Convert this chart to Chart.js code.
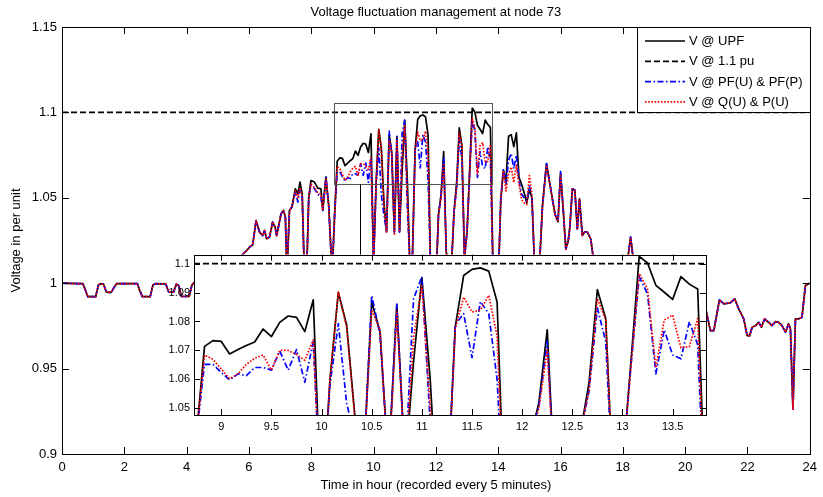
<!DOCTYPE html>
<html><head><meta charset="utf-8">
<script src="https://cdn.jsdelivr.net/npm/chart.js@4"></script>
<style>
html,body{margin:0;padding:0;background:#fff;}
#wrap{position:relative;width:823px;height:497px;overflow:hidden;}
#main{position:absolute;left:0;top:0;}
#inset{position:absolute;left:150px;top:244px;}
</style></head><body>
<div id="wrap">
<canvas id="main" width="823" height="497"></canvas>
<canvas id="inset" width="570" height="200"></canvas>
</div>
<script>
const chartTitle = 'Voltage fluctuation management at node 73';
const xAxisTitle = 'Time in hour (recorded every 5 minutes)';
const yAxisTitle = 'Voltage in per unit';
const seriesNames = ['V @ UPF', 'V @ 1.1 pu', 'V @ PF(U) & PF(P)', 'V @ Q(U) & P(U)'];
const limitValue = 1.1;

const hours = [
  0,0.5,0.67,0.75,0.83,1.08,1.17,1.25,1.33,1.42,1.5,1.58,1.67,1.75,2.42,2.5,2.58,2.83,2.92,3,3.33,3.42,3.58,3.67,3.75,3.83,4.08,4.17,4.25,
  4.5,4.75,5,5.25,5.5,5.75,5.92,
  6.02,6.12,6.23,6.34,6.44,6.5,6.57,6.66,6.76,6.84,6.89,7.03,7.11,7.17,7.22,7.3,7.38,7.49,7.57,7.64,7.71,7.78,7.85,7.92,7.99,8.1,8.21,8.31,8.37,8.47,8.56,8.67,
  8.750,8.833,8.917,9.000,9.083,9.167,9.250,9.333,9.417,9.500,9.583,9.667,9.750,9.833,9.917,
  10.000,10.083,10.167,10.250,10.333,10.417,10.500,10.583,10.667,10.750,10.833,10.917,
  11.000,11.083,11.167,11.250,11.333,11.417,11.500,11.583,11.667,11.750,11.833,11.917,
  12.000,12.083,12.167,12.250,12.333,12.417,12.500,12.583,12.667,12.750,12.833,12.917,
  13.000,13.083,13.167,13.250,13.333,13.417,13.500,13.583,13.667,13.750,13.833,
  14,14.083,14.167,14.25,14.333,14.417,14.5,14.583,14.667,14.75,14.833,14.917,15,15.083,15.167,15.25,15.33,15.42,15.55,15.67,15.75,15.83,15.92,16,16.08,16.17,16.25,16.3,16.38,16.46,16.54,16.61,16.7,16.77,16.86,16.97,17.05,
  17.5,17.9,18.1,18.17,18.25,18.33,18.5,19,19.5,20,20.4,
  20.65,20.81,20.92,21.1,21.24,21.45,21.59,21.72,21.88,21.99,22.07,22.15,22.26,22.36,22.45,22.55,22.68,22.79,22.9,23,23.11,23.22,23.32,23.38,23.46,23.54,23.64,23.75,23.86,24
];

const vUPF = [
  1.0000,0.9998,0.9997,0.9960,0.9921,0.9921,0.9990,0.9997,0.9995,0.9950,0.9946,0.9946,0.9975,0.9997,0.9997,0.9955,0.9921,0.9921,0.9990,0.9997,0.9996,0.9950,0.9947,0.9995,0.9985,0.9922,0.9922,0.9990,1.0005,
  1.0020,1.0040,1.0060,1.0090,1.0120,1.0160,1.0190,
  1.0211,1.0225,1.0367,1.0299,1.0279,1.0308,1.0260,1.0270,1.0358,1.0328,1.0279,1.0406,1.0426,1.0387,1.0050,1.0426,1.0446,1.0553,1.0523,1.0592,1.0523,1.0050,1.0050,1.0504,1.0601,1.0592,1.0557,1.0553,1.0426,1.0621,1.0455,1.0050,
  1.040,1.0714,1.0734,1.0731,1.0688,1.0703,1.0717,1.0729,1.0774,1.0748,1.0797,1.0819,1.0814,1.0765,1.0875,
  1.012,1.0596,1.0901,1.0788,1.047,1.030,1.0867,1.0765,1.030,1.0858,1.030,1.066,
  1.0952,1.060,1.010,1.017,1.0782,1.0959,1.0980,1.0985,1.0974,1.0867,1.005,1.000,
  1.000,1.040,1.052,1.0771,1.018,1.010,1.010,1.042,1.0590,1.0910,1.0810,1.015,
  1.030,1.0653,1.1025,1.1002,1.0925,1.0901,1.0876,1.0955,1.0929,1.0912,1.010,
  1.000,1.049,1.066,1.060,1.086,1.087,1.080,1.088,1.062,1.058,1.053,1.047,1.055,1.050,1.010,1.005,1.012,1.045,1.070,1.057,1.048,1.040,1.036,1.0641,1.045,1.020,1.025,1.033,1.0553,1.0544,1.0318,1.0494,1.0279,1.0299,1.0299,1.0260,1.0150,
  1.005,1.008,1.012,1.016,1.027,1.015,1.005,0.998,0.995,0.992,0.990,
  0.9859,0.9722,0.9722,0.9902,0.9879,0.9885,0.9908,0.9849,0.9791,0.9693,0.9693,0.9742,0.9752,0.9771,0.9742,0.9791,0.9771,0.9752,0.9775,0.9771,0.9752,0.9713,0.9762,0.9732,0.9263,0.9791,0.9791,0.9801,0.9986,1.0000
];

const vPFPF = [
  1.0000,0.9998,0.9997,0.9960,0.9921,0.9921,0.9990,0.9997,0.9995,0.9950,0.9946,0.9946,0.9975,0.9997,0.9997,0.9955,0.9921,0.9921,0.9990,0.9997,0.9996,0.9950,0.9947,0.9995,0.9985,0.9922,0.9922,0.9990,1.0005,
  1.0020,1.0040,1.0060,1.0090,1.0120,1.0160,1.0190,
  1.0211,1.0225,1.0367,1.0299,1.0279,1.0308,1.0260,1.0270,1.0358,1.0328,1.0279,1.0406,1.0426,1.0387,1.0050,1.0426,1.0446,1.0535,1.0475,1.0555,1.0500,1.0050,1.0050,1.0504,1.0575,1.0555,1.0520,1.0505,1.0426,1.0620,1.0455,1.0050,
  1.040,1.0652,1.0652,1.0624,1.0598,1.0619,1.0613,1.0641,1.0641,1.0632,1.0698,1.0632,1.0703,1.0590,1.0731,
  1.012,1.0580,1.0793,1.0517,1.040,1.030,1.0890,1.0755,1.030,1.0860,1.030,1.0878,
  1.0955,1.045,1.010,1.017,1.0790,1.0827,1.0675,1.0869,1.0827,1.060,1.005,1.000,
  1.000,1.040,1.051,1.0731,1.018,1.010,1.010,1.042,1.0560,1.0847,1.0731,1.015,
  1.030,1.0640,1.0955,1.0895,1.0619,1.0771,1.0684,1.0671,1.0799,1.0720,1.005,
  1.000,1.049,1.067,1.058,1.072,1.076,1.067,1.075,1.060,1.052,1.050,1.048,1.057,1.049,1.010,1.005,1.012,1.045,1.070,1.057,1.048,1.040,1.036,1.066,1.045,1.020,1.025,1.033,1.0553,1.0544,1.0318,1.0494,1.0279,1.0299,1.0299,1.0260,1.0150,
  1.005,1.008,1.012,1.016,1.027,1.015,1.005,0.998,0.995,0.992,0.990,
  0.9859,0.9722,0.9722,0.9902,0.9879,0.9885,0.9908,0.9849,0.9791,0.9693,0.9693,0.9742,0.9752,0.9771,0.9742,0.9791,0.9771,0.9752,0.9775,0.9771,0.9752,0.9713,0.9762,0.9732,0.9263,0.9791,0.9791,0.9801,0.9986,1.0000
];

const vQUPU = [
  1.0000,0.9998,0.9997,0.9960,0.9921,0.9921,0.9990,0.9997,0.9995,0.9950,0.9946,0.9946,0.9975,0.9997,0.9997,0.9955,0.9921,0.9921,0.9990,0.9997,0.9996,0.9950,0.9947,0.9995,0.9985,0.9922,0.9922,0.9990,1.0005,
  1.0020,1.0040,1.0060,1.0090,1.0120,1.0160,1.0190,
  1.0211,1.0225,1.0367,1.0299,1.0279,1.0308,1.0260,1.0270,1.0358,1.0328,1.0279,1.0406,1.0426,1.0387,1.0050,1.0426,1.0446,1.0540,1.0500,1.0560,1.0510,1.0050,1.0050,1.0504,1.0580,1.0560,1.0530,1.0520,1.0426,1.0615,1.0455,1.0050,
  1.040,1.0684,1.0669,1.0636,1.0602,1.0619,1.0652,1.0673,1.0684,1.0632,1.0700,1.0700,1.0686,1.0666,1.0737,
  1.012,1.0596,1.0901,1.0780,1.046,1.030,1.0839,1.0770,1.028,1.0833,1.030,1.0743,
  1.0923,1.050,1.010,1.017,1.0775,1.0884,1.0833,1.0839,1.0890,1.075,1.005,1.000,
  1.000,1.040,1.050,1.0703,1.018,1.010,1.010,1.042,1.0562,1.0878,1.0806,1.015,
  1.030,1.0640,1.0966,1.0912,1.0641,1.0805,1.0822,1.0709,1.0713,1.0810,1.005,
  1.000,1.049,1.066,1.054,1.064,1.068,1.059,1.069,1.058,1.049,1.047,1.046,1.063,1.052,1.010,1.005,1.012,1.045,1.069,1.057,1.048,1.040,1.036,1.063,1.045,1.020,1.025,1.033,1.0553,1.0544,1.0318,1.0494,1.0279,1.0299,1.0299,1.0260,1.0150,
  1.005,1.008,1.012,1.016,1.027,1.015,1.005,0.998,0.995,0.992,0.990,
  0.9859,0.9722,0.9722,0.9902,0.9879,0.9885,0.9908,0.9849,0.9791,0.9693,0.9693,0.9742,0.9752,0.9771,0.9742,0.9791,0.9771,0.9752,0.9775,0.9771,0.9752,0.9713,0.9762,0.9732,0.9263,0.9791,0.9791,0.9801,0.9986,1.0000
];

const mainXTicks = [0,2,4,6,8,10,12,14,16,18,20,22,24];
const mainXTickLabels = ['0','2','4','6','8','10','12','14','16','18','20','22','24'];
const mainYTicks = [0.9,0.95,1,1.05,1.1,1.15];
const mainYTickLabels = ['0.9','0.95','1','1.05','1.1','1.15'];
const insetXTicks = [9,9.5,10,10.5,11,11.5,12,12.5,13,13.5];
const insetXTickLabels = ['9','9.5','10','10.5','11','11.5','12','12.5','13','13.5'];
const insetYTicks = [1.05,1.06,1.07,1.08,1.09,1.1];
const insetYTickLabels = ['1.05','1.06','1.07','1.08','1.09','1.1'];

const mainRange = {xMin:0, xMax:24, yMin:0.9, yMax:1.15};
const insetRange = {xMin:8.728, xMax:13.833, yMin:1.0477, yMax:1.1031};
const zoomBox = {xMin:8.72, xMax:13.8, yMin:1.0578, yMax:1.1053};
const connector = {x:9.57, yTop:1.0578, yBottom:1.015};

const FONT = '"Liberation Sans", Arial, Helvetica, sans-serif';
const styles = [
  {color:'#000000', dash:[], width:1.7},
  {color:'#000000', dash:[6,3], width:1.7},
  {color:'#0000ff', dash:[6,2.5,1.5,2.5], width:1.7},
  {color:'#ff0000', dash:[1.6,1.6], width:1.7}
];
const drawOrder = [3,2,1,0];

function pts(vals){ return hours.map((h,i)=>({x:h, y:vals[i]})); }
function makeDatasets(r){
  const lim = [{x:r.xMin, y:limitValue},{x:r.xMax, y:limitValue}];
  const data = [pts(vUPF), lim, pts(vPFPF), pts(vQUPU)];
  return data.map((d,i)=>({
    label: seriesNames[i], data: d,
    borderColor: styles[i].color, borderDash: styles[i].dash, borderWidth: styles[i].width,
    pointRadius: 0, pointHoverRadius: 0, fill: false, tension: 0, order: drawOrder[i], clip: 0,
    borderCapStyle: 'butt', borderJoinStyle: 'round'
  }));
}

function framePlugin(xTicks, yTicks, tickLen){
  return {id:'frame', afterDatasetsDraw(chart){
    const {ctx, chartArea:a, scales:{x, y}} = chart;
    ctx.save();
    ctx.strokeStyle = '#000'; ctx.lineWidth = 1; ctx.setLineDash([]);
    ctx.beginPath();
    xTicks.forEach(v=>{
      const px = Math.round(x.getPixelForValue(v)) + 0.5;
      ctx.moveTo(px, a.bottom); ctx.lineTo(px, a.bottom - tickLen);
      ctx.moveTo(px, a.top); ctx.lineTo(px, a.top + tickLen);
    });
    yTicks.forEach(v=>{
      const py = Math.round(y.getPixelForValue(v)) + 0.5;
      ctx.moveTo(a.left, py); ctx.lineTo(a.left + tickLen, py);
      ctx.moveTo(a.right, py); ctx.lineTo(a.right - tickLen, py);
    });
    ctx.stroke();
    ctx.strokeRect(Math.round(a.left)+0.5, Math.round(a.top)+0.5, Math.round(a.right-a.left), Math.round(a.bottom-a.top));
    ctx.restore();
  }};
}

const mainBg = {id:'mainBg', beforeDraw(chart){
  const ctx = chart.ctx; ctx.save(); ctx.fillStyle = '#fff'; ctx.fillRect(0,0,chart.width,chart.height); ctx.restore();
}};

const overlays = {id:'overlays', afterDraw(chart){
  const {ctx, chartArea:a, scales:{x, y}} = chart;
  ctx.save();
  ctx.strokeStyle = '#555'; ctx.lineWidth = 1; ctx.setLineDash([]);
  const rx0 = Math.round(x.getPixelForValue(zoomBox.xMin))+0.5, rx1 = Math.round(x.getPixelForValue(zoomBox.xMax))+0.5;
  const ry0 = Math.round(y.getPixelForValue(zoomBox.yMax))+0.5, ry1 = Math.round(y.getPixelForValue(zoomBox.yMin))+0.5;
  ctx.strokeRect(rx0, ry0, rx1-rx0, ry1-ry0);
  ctx.strokeStyle = '#000';
  ctx.beginPath();
  const cx = Math.round(x.getPixelForValue(connector.x))+0.5;
  ctx.moveTo(cx, y.getPixelForValue(connector.yTop)); ctx.lineTo(cx, y.getPixelForValue(connector.yBottom));
  ctx.stroke();
  const L = Math.round(a.right - 173), T = Math.round(a.top), R = Math.round(a.right), B = Math.round(y.getPixelForValue(limitValue));
  ctx.fillStyle = '#fff'; ctx.fillRect(L, T, R-L, B-T);
  ctx.strokeStyle = '#000'; ctx.lineWidth = 1; ctx.strokeRect(L+0.5, T+0.5, R-L, B-T);
  ctx.font = '13px ' + FONT; ctx.textBaseline = 'middle'; ctx.textAlign = 'left';
  seriesNames.forEach((name,i)=>{
    const yy = T + 14 + i*20.3;
    ctx.beginPath(); ctx.setLineDash(styles[i].dash); ctx.lineWidth = styles[i].width; ctx.strokeStyle = styles[i].color;
    ctx.moveTo(L+8, yy); ctx.lineTo(L+48, yy); ctx.stroke();
    ctx.setLineDash([]); ctx.fillStyle = '#000'; ctx.fillText(name, L+52, yy+0.5);
  });
  ctx.fillStyle = '#000'; ctx.textAlign = 'center'; ctx.font = '13px ' + FONT;
  ctx.fillText(chartTitle, (a.left+a.right)/2, 12);
  ctx.restore();
}};

const insetBg = {id:'insetBg', beforeDraw(chart){
  const {ctx, chartArea:a} = chart; ctx.save(); ctx.fillStyle = '#fff'; ctx.fillRect(a.left, a.top, a.right-a.left, a.bottom-a.top); ctx.restore();
}};

function axisOpts(r, axis, ticksArr, labels, fontSize, pad, fitSize, title){
  const o = {
    type:'linear', min: axis==='x' ? r.xMin : r.yMin, max: axis==='x' ? r.xMax : r.yMax,
    grid:{display:false, drawTicks:false}, border:{display:false},
    afterBuildTicks: s => { s.ticks = ticksArr.map(v=>({value:v})); },
    ticks:{autoSkip:false, maxRotation:0, padding:pad, color:'#000', font:{family:FONT, size:fontSize},
      callback:(v,i)=>labels[i]}
  };
  if (axis==='x') o.afterFit = s => { s.height = fitSize; };
  else o.afterFit = s => { s.width = fitSize; };
  if (title) o.title = title;
  return o;
}

new Chart(document.getElementById('main'), {
  type:'line',
  data:{datasets: makeDatasets(mainRange)},
  options:{
    responsive:false, animation:false, devicePixelRatio:1, events:[],
    layout:{padding:{top:27, right:13, left:0, bottom:0}},
    plugins:{legend:{display:false}, title:{display:false}, tooltip:{enabled:false}},
    scales:{
      x: axisOpts(mainRange,'x',mainXTicks,mainXTickLabels,13,6,43,
        {display:true, text:xAxisTitle, color:'#000', font:{family:FONT,size:13}, padding:{top:0,bottom:4}}),
      y: axisOpts(mainRange,'y',mainYTicks,mainYTickLabels,13,5,62,
        {display:true, text:yAxisTitle, color:'#000', font:{family:FONT,size:13}, padding:{top:9,bottom:0}})
    }
  },
  plugins:[mainBg, framePlugin(mainXTicks, mainYTicks, 7), overlays]
});

new Chart(document.getElementById('inset'), {
  type:'line',
  data:{datasets: makeDatasets(insetRange)},
  options:{
    responsive:false, animation:false, devicePixelRatio:1, events:[],
    layout:{padding:{top:8, right:14, left:0, bottom:0}},
    plugins:{legend:{display:false}, title:{display:false}, tooltip:{enabled:false}},
    scales:{
      x: axisOpts(insetRange,'x',insetXTicks,insetXTickLabels,11,5,29,null),
      y: axisOpts(insetRange,'y',insetYTicks,insetYTickLabels,11,4,44,null)
    }
  },
  plugins:[insetBg, framePlugin(insetXTicks, insetYTicks, 6)]
});
</script>
</body></html>
